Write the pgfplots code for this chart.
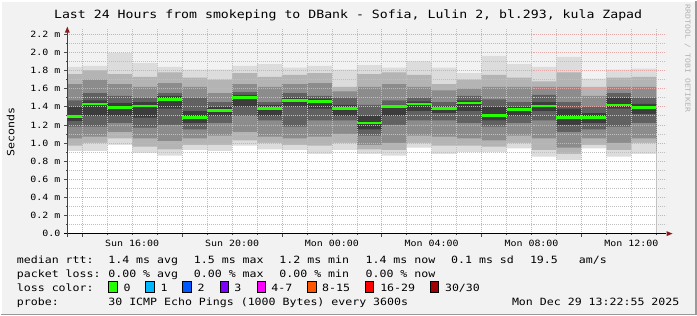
\documentclass[border=0pt]{standalone}
\usepackage{pgfplots}
\pgfplotsset{compat=1.18}
\usepackage{pgfplotstable}
\usepackage{fontspec}
\newfontfamily\rrd[FakeStretch=1.16]{DejaVu Sans Mono}
\newcommand\tfont{\rrd\fontsize{11.4bp}{13bp}\selectfont}
\newcommand\lfont{\rrd\fontsize{10bp}{12bp}\selectfont}
\newcommand\kfont{\rrd\fontsize{8.6bp}{10bp}\selectfont}
\newcommand\wfont{\rrd\fontsize{7bp}{8bp}\selectfont}
\definecolor{rrdback}{HTML}{F2F2F2}
\definecolor{sA}{HTML}{DCDCDC}
\definecolor{sB}{HTML}{B4B4B4}
\definecolor{sC}{HTML}{8C8C8C}
\definecolor{sD}{HTML}{616161}
\definecolor{sE}{HTML}{3C3C3C}
\definecolor{medgreen}{HTML}{26FF00}
\definecolor{arrowred}{HTML}{8B1A1A}
\definecolor{mgrid}{HTML}{E0A8A8}
\definecolor{lc0}{HTML}{26FF00}
\definecolor{lc1}{HTML}{00B8FF}
\definecolor{lc2}{HTML}{0059FF}
\definecolor{lc3}{HTML}{7E00FF}
\definecolor{lc4}{HTML}{FF00FF}
\definecolor{lc5}{HTML}{FF5500}
\definecolor{lc6}{HTML}{FF0000}
\definecolor{lc7}{HTML}{A00000}
\pgfplotstableread{
x    h0   l0   h1   l1   h2   l2   h3   l3   h4   l4   med
13.4 1.84 0.91 1.76 0.97 1.65 1.05 1.47 1.18 1.40 1.24 1.29
14   1.85 0.91 1.80 1.00 1.70 1.07 1.55 1.18 1.47 1.30 1.43
15   1.99 0.98 1.76 1.05 1.65 1.12 1.52 1.22 1.44 1.30 1.39
16   1.88 0.89 1.73 0.96 1.62 1.05 1.50 1.17 1.45 1.28 1.41
17   1.84 0.86 1.78 0.93 1.66 1.02 1.55 1.20 1.52 1.38 1.48
18   1.81 0.92 1.72 0.98 1.62 1.05 1.50 1.15 1.35 1.22 1.28
19   1.81 0.91 1.70 0.98 1.55 1.08 1.45 1.22 1.40 1.30 1.36
20   1.85 0.97 1.77 1.03 1.65 1.12 1.56 1.30 1.53 1.40 1.50
21   1.87 0.93 1.73 1.00 1.62 1.07 1.45 1.25 1.42 1.30 1.38
22   1.83 0.92 1.75 0.98 1.65 1.05 1.55 1.18 1.50 1.40 1.47
23   1.85 0.88 1.77 0.97 1.66 1.07 1.52 1.25 1.49 1.38 1.46
24   1.81 0.92 1.62 1.00 1.57 1.10 1.50 1.25 1.42 1.30 1.38
25   1.86 0.88 1.76 0.93 1.62 0.98 1.42 1.08 1.30 1.15 1.22
26   1.83 0.86 1.78 0.92 1.65 1.00 1.47 1.20 1.42 1.30 1.40
27   1.90 0.95 1.75 1.00 1.62 1.08 1.50 1.25 1.46 1.35 1.43
28   1.83 0.88 1.65 0.97 1.58 1.07 1.45 1.25 1.41 1.33 1.38
29   1.77 0.90 1.70 0.97 1.60 1.05 1.52 1.22 1.47 1.35 1.44
30   1.96 0.90 1.75 0.96 1.62 1.03 1.48 1.18 1.40 1.25 1.30
31   1.87 0.94 1.72 1.00 1.62 1.08 1.45 1.22 1.40 1.30 1.37
32   1.84 0.85 1.68 0.92 1.62 1.05 1.53 1.25 1.45 1.35 1.41
33   1.95 0.81 1.78 0.88 1.62 0.95 1.45 1.12 1.38 1.20 1.28
34   1.71 0.94 1.62 0.98 1.52 1.05 1.40 1.15 1.33 1.22 1.28
35   1.81 0.85 1.72 0.92 1.62 1.00 1.55 1.18 1.50 1.38 1.42
36   1.82 0.88 1.73 1.00 1.62 1.05 1.50 1.22 1.43 1.32 1.39
37   1.82 0.88 1.73 1.00 1.62 1.05 1.50 1.22 1.43 1.32 1.39
}\smoke
\begin{document}
\begin{tikzpicture}[x=1bp,y=1bp]
\fill[rrdback] (0,0) rectangle (697,315);
\draw[white, line width=1bp] (0.5,0) -- (0.5,314.5) -- (697,314.5);
\draw[black!40, line width=1.5bp] (0,0.75) -- (696.25,0.75) -- (696.25,315);
\begin{axis}[
  set layers,
  at={(66.7bp,81.7bp)}, anchor=south west,
  scale only axis, width=600bp, height=204.8bp,
  xmin=13.4, xmax=37.4, ymin=0, ymax=2.255,
  axis background/.style={fill=white},
  axis on top,
  axis x line*=bottom, axis y line*=left,
  x axis line style={black, line width=0.8bp, shorten <=-3bp},
  y axis line style={black!75, line width=0.8bp, shorten <=-3bp},
  tick align=outside,
  major tick length=3bp, minor tick length=1.5bp,
  tick style={black!70, line width=0.6bp},
  xtick={14,18,22,26,30,34}, xticklabels={},
  minor xtick={14,15,...,37},
  extra x ticks={16,20,24,28,32,36},
  extra x tick labels={Sun 16:00,Sun 20:00,Mon 00:00,Mon 04:00,Mon 08:00,Mon 12:00},
  extra x tick style={grid=none, major tick length=0pt,
    xticklabel style={anchor=base, inner sep=0pt, yshift=-12.7bp, font=\kfont}},
  ytick={0,0.2,0.4,0.6,0.8,1.0,1.2,1.4,1.6,1.8,2.0,2.2},
  yticklabels={0.0,0.2 m,0.4 m,0.6 m,0.8 m,1.0 m,1.2 m,1.4 m,1.6 m,1.8 m,2.0 m,2.2 m},
  minor ytick={0.1,0.3,0.5,0.7,0.9,1.1,1.3,1.5,1.7,1.9,2.1},
  yticklabel style={font=\kfont, inner sep=0pt, xshift=-3.7bp},
  grid=both,
  major grid style={draw=mgrid, line width=0.6bp, dash pattern=on 1bp off 1bp},
  minor grid style={draw=black!25, line width=0.6bp, dash pattern=on 1bp off 1bp},
]
% upper halves: nested bands, outermost first
\addplot[fill=sA, draw=none, const plot] table[x=x,y=h0]{\smoke} \closedcycle;
\addplot[fill=sB, draw=none, const plot] table[x=x,y=h1]{\smoke} \closedcycle;
\addplot[fill=sC, draw=none, const plot] table[x=x,y=h2]{\smoke} \closedcycle;
\addplot[fill=sD, draw=none, const plot] table[x=x,y=h3]{\smoke} \closedcycle;
\addplot[fill=sE, draw=none, const plot] table[x=x,y=h4]{\smoke} \closedcycle;
% lower halves: innermost first
\addplot[fill=sD, draw=none, const plot] table[x=x,y=l4]{\smoke} \closedcycle;
\addplot[fill=sC, draw=none, const plot] table[x=x,y=l3]{\smoke} \closedcycle;
\addplot[fill=sB, draw=none, const plot] table[x=x,y=l2]{\smoke} \closedcycle;
\addplot[fill=sA, draw=none, const plot] table[x=x,y=l1]{\smoke} \closedcycle;
\addplot[fill=white, draw=none, const plot] table[x=x,y=l0]{\smoke} \closedcycle;
\addplot[draw=medgreen, line width=2.6bp, jump mark left, on layer=axis foreground] table[x=x,y=med]{\smoke};
\end{axis}
% axis arrow heads
\fill[arrowred] (64.2,283) -- (66.7,289) -- (69.2,283) -- cycle;
\fill[arrowred] (667,79.2) -- (673,81.7) -- (667,84.2) -- cycle;
% title and labels
\node[anchor=base, inner sep=0pt, font=\tfont] at (348,297.7) {Last 24 Hours from smokeping to DBank - Sofia, Lulin 2, bl.293, kula Zapad};
\node[rotate=-90, anchor=west, inner sep=0pt, font=\wfont, text=black!30] at (688,311) {RRDTOOL / TOBI OETIKER};
\node[rotate=90, inner sep=0pt, font=\lfont] at (10,183.3) {Seconds};
% legend
\begin{scope}[every node/.style={anchor=base west, inner sep=0pt, font=\lfont}]
\node at (16,51.7) {median rtt:};
\node at (107.6,51.7) {1.4 ms avg};
\node at (193.3,51.7) {1.5 ms max};
\node at (279,51.7) {1.2 ms min};
\node at (365.3,51.7) {1.4 ms now};
\node at (451,51.7) {0.1 ms sd};
\node at (530,51.7) {19.5};
\node at (579,51.7) {am/s};
\node at (16,37.7) {packet loss:};
\node at (107.6,37.7) {0.00 \% avg};
\node at (193.3,37.7) {0.00 \% max};
\node at (279,37.7) {0.00 \% min};
\node at (365.3,37.7) {0.00 \% now};
\node at (16,24) {loss color:};
\node at (123,24) {0};
\node at (160,24) {1};
\node at (197,24) {2};
\node at (233.8,24) {3};
\node at (271,24) {4-7};
\node at (321.8,24) {8-15};
\node at (380,24) {16-29};
\node at (444.9,24) {30/30};
\node at (16,10) {probe:};
\node at (107.6,10) {30 ICMP Echo Pings (1000 Bytes) every 3600s};
\node[anchor=base east] at (680,10) {Mon Dec 29 13:22:55 2025};
\end{scope}
\foreach \bx/\bc in {108/lc0,145.3/lc1,182.2/lc2,219.6/lc3,256.9/lc4,307.6/lc5,365.3/lc6,430.2/lc7}{
  \filldraw[fill=\bc, draw=black, line width=0.8bp] (\bx,23) rectangle ++(8.5,10.5);
}
\end{tikzpicture}
\end{document}
